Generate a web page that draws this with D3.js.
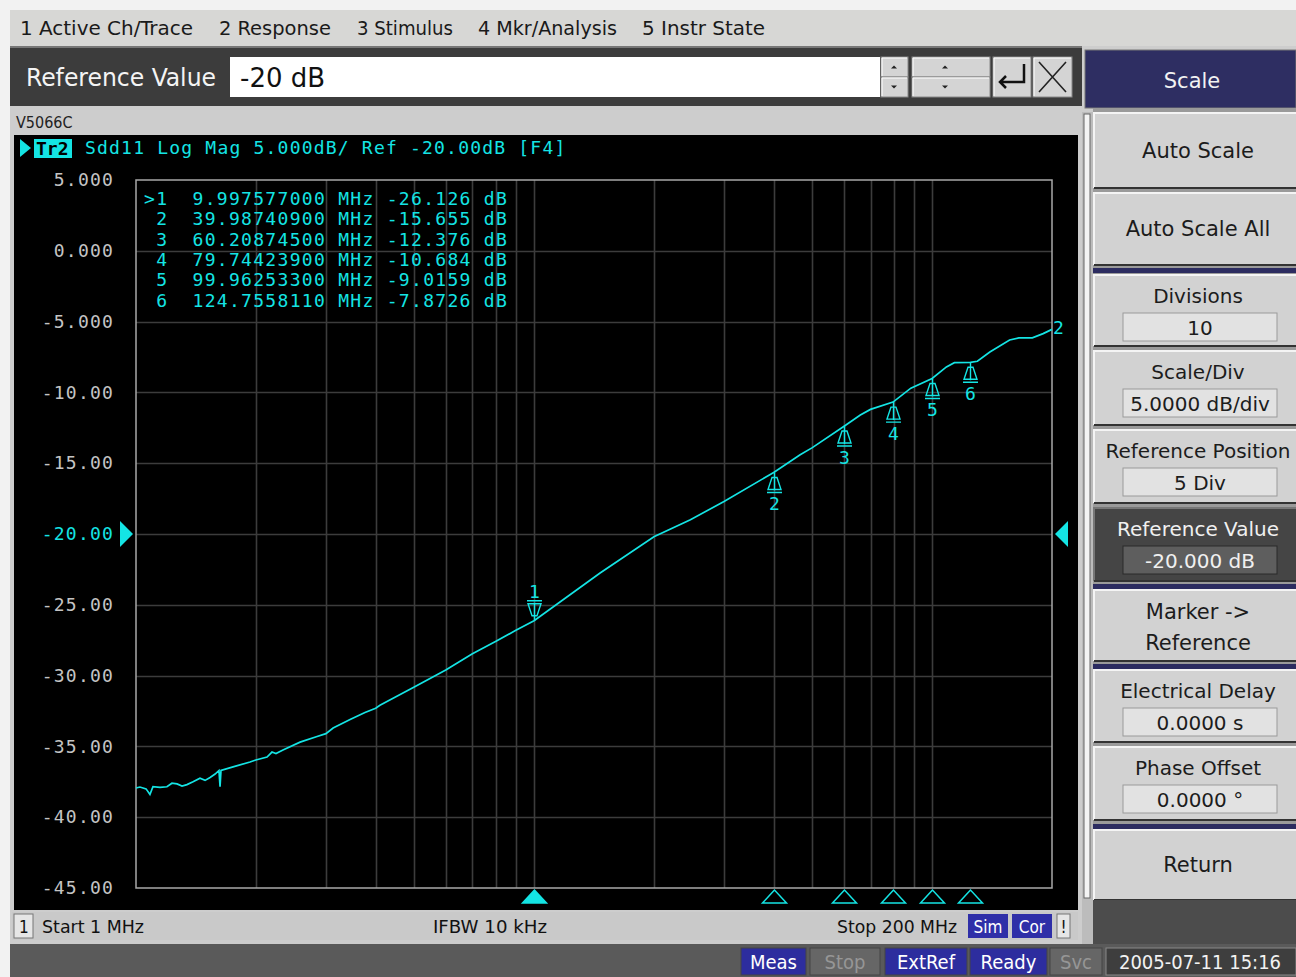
<!DOCTYPE html>
<html>
<head>
<meta charset="utf-8">
<script src="https://cdn.jsdelivr.net/npm/d3@7"></script>
<style>
body { margin: 0; background: #fff; }
svg { display: block; }
text { font-family: "DejaVu Sans Condensed", "DejaVu Sans", sans-serif; }
.mono { font-family: "DejaVu Sans Mono", monospace; white-space: pre; }
.ui { font-family: "DejaVu Sans", sans-serif; }
</style>
</head>
<body>
<div id="chart"></div>
<script>
// trace: Sdd11 log mag (MHz, dB)
const traceFreq = [1.000, 1.023, 1.06, 1.084, 1.103, 1.149, 1.196, 1.231, 1.268, 1.305, 1.343, 1.391,
  1.448, 1.491, 1.535, 1.580, 1.616, 1.626, 1.635, 1.753, 1.934, 2.000, 2.134, 2.196, 2.247, 2.340,
  2.583, 2.850, 3.000, 3.127, 3.450, 3.760, 4.000, 4.100, 5.0, 6.0, 7.0, 8.0, 9.0, 9.9976, 14.65,
  20.0, 24.7, 30.0, 39.987, 46.6, 50.0, 60.209, 66.0, 70.0, 79.744, 88.4, 99.963, 108.6, 113.7,
  124.756, 129.9, 139.6, 156.5, 165.0, 178.5, 190.0, 200.0];
const traceDb = [-37.94, -37.87, -38.0, -38.4, -37.85, -37.9, -37.85, -37.6, -37.65, -37.8, -37.7, -37.5,
  -37.25, -37.4, -37.2, -36.95, -36.7, -37.85, -36.7, -36.45, -36.1, -35.96, -35.75, -35.4, -35.5, -35.25,
  -34.7, -34.3, -34.1, -33.7, -33.1, -32.6, -32.3, -32.1, -30.8, -29.6, -28.45, -27.6, -26.8, -26.126, -22.75,
  -20.2, -19.0, -17.7, -15.655, -14.4, -13.9, -12.376, -11.6, -11.2, -10.684, -9.7, -9.016, -8.2, -7.9,
  -7.873, -7.8, -7.15, -6.3, -6.15, -6.15, -5.85, -5.55];

const markerNo = [1, 2, 3, 4, 5, 6];
const markerFreq = [9.997577, 39.987409, 60.208745, 79.744239, 99.962533, 124.755811];
const markerDb = [-26.126, -15.655, -12.376, -10.684, -9.0159, -7.8726];
const markerRows = [
  ">1  9.997577000 MHz -26.126 dB",
  " 2  39.98740900 MHz -15.655 dB",
  " 3  60.20874500 MHz -12.376 dB",
  " 4  79.74423900 MHz -10.684 dB",
  " 5  99.96253300 MHz -9.0159 dB",
  " 6  124.7558110 MHz -7.8726 dB"
];

const yTicks = [5, 0, -5, -10, -15, -20, -25, -30, -35, -40, -45];
const yTickLabels = ["5.000", "0.000", "-5.000", "-10.00", "-15.00", "-20.00", "-25.00", "-30.00", "-35.00", "-40.00", "-45.00"];
const refValue = -20;

const menuItems = ["1 Active Ch/Trace", "2 Response", "3 Stimulus", "4 Mkr/Analysis", "5 Instr State"];
const menuX = [20, 219, 357, 478, 642];
const menuW = [173, 112, 96, 139, 123];

const softkeys = [
  { label: ["Auto Scale"], value: null, y0: 113, y1: 188 },
  { label: ["Auto Scale All"], value: null, y0: 193, y1: 265 },
  { label: ["Divisions"], value: "10", y0: 275, y1: 346 },
  { label: ["Scale/Div"], value: "5.0000 dB/div", y0: 351, y1: 425 },
  { label: ["Reference Position"], value: "5 Div", y0: 430, y1: 503 },
  { label: ["Reference Value"], value: "-20.000 dB", y0: 508, y1: 581, active: true },
  { label: ["Marker ->", "Reference"], value: null, y0: 590, y1: 661 },
  { label: ["Electrical Delay"], value: "0.0000 s", y0: 670, y1: 742 },
  { label: ["Phase Offset"], value: "0.0000 °", y0: 747, y1: 820 },
  { label: ["Return"], value: null, y0: 830, y1: 900 }
];
const separators = [268, 584, 664, 824];

const statusButtons = [
  { t: "Meas", x: 741, w: 65, on: true },
  { t: "Stop", x: 810, w: 70, on: false },
  { t: "ExtRef", x: 885, w: 82, on: true },
  { t: "Ready", x: 970, w: 77, on: true },
  { t: "Svc", x: 1050, w: 52, on: false }
];

const W = 1296, H = 977;
const CYAN = "#14e4e4";
const svg = d3.select("#chart").append("svg").attr("width", W).attr("height", H);

// window chrome
svg.append("rect").attr("width", W).attr("height", H).attr("fill", "#f2f2f2");
svg.append("rect").attr("x", 10).attr("y", 10).attr("width", W - 10).attr("height", 36).attr("fill", "#d7d7d5");
svg.selectAll(".menu").data(menuItems).enter().append("text")
  .attr("x", (d, i) => menuX[i]).attr("y", 35)
  .attr("font-size", 19).attr("textLength", (d, i) => menuW[i]).attr("lengthAdjust", "spacingAndGlyphs")
  .attr("fill", "#1a1a1a").text(d => d);

// entry bar
svg.append("rect").attr("x", 10).attr("y", 46).attr("width", 1072).attr("height", 60).attr("fill", "#3c3c3c");
svg.append("rect").attr("x", 10).attr("y", 46).attr("width", 1072).attr("height", 2).attr("fill", "#777");
svg.append("text").attr("x", 26).attr("y", 86).attr("font-size", 24).attr("textLength", 190)
  .attr("lengthAdjust", "spacingAndGlyphs").attr("fill", "#f4f4f4").text("Reference Value");
svg.append("rect").attr("x", 230).attr("y", 57).attr("width", 650).attr("height", 40).attr("fill", "#fff");
svg.append("text").attr("x", 240).attr("y", 87).attr("font-size", 27).attr("textLength", 85)
  .attr("lengthAdjust", "spacingAndGlyphs").attr("fill", "#111").text("-20 dB");
const btn = (x, y, w, h) => {
  svg.append("rect").attr("x", x).attr("y", y).attr("width", w).attr("height", h).attr("fill", "#d4d4d4")
    .attr("stroke", "#888").attr("stroke-width", 1);
  svg.append("path").attr("d", `M${x + 1},${y + h - 1}V${y + 1}H${x + w - 1}`).attr("stroke", "#fff").attr("fill", "none");
};
btn(881, 57, 27, 20); btn(881, 77, 27, 20);
btn(912, 57, 78, 20); btn(912, 77, 78, 20);
btn(993, 57, 38, 40); btn(1033, 57, 39, 40);
[[894, 67, -1], [894, 87, 1], [945, 67, -1], [945, 87, 1]].forEach(([cx, cy, s]) => {
  svg.append("path").attr("d", `M${cx - 3},${cy - 1.5 * s}L${cx + 3},${cy - 1.5 * s}L${cx},${cy + 1.5 * s}Z`).attr("fill", "#222");
});
svg.append("path").attr("d", "M1024,64V82H1000M1006,76L1000,82L1006,88").attr("stroke", "#111").attr("stroke-width", 2.5).attr("fill", "none");
svg.append("path").attr("d", "M1039,62L1066,92M1066,62L1039,92").attr("stroke", "#222").attr("stroke-width", 1.6);

// chart window frame
svg.append("rect").attr("x", 10).attr("y", 106).attr("width", 1072).attr("height", 838).attr("fill", "#cdcdcd");
svg.append("text").attr("x", 16).attr("y", 128).attr("font-size", 16).attr("fill", "#222").text("V5066C");
svg.append("rect").attr("x", 14).attr("y", 135).attr("width", 1064).attr("height", 775).attr("fill", "#000");

// scales
const x = d3.scaleLog().domain([1, 200]).range([136, 1052]);
const y = d3.scaleLinear().domain([-45, 5]).range([888, 180]);

const plot = svg.append("g");
plot.selectAll(".vg").data(x.ticks().filter(d => d > 1 && d < 200)).enter().append("line")
  .attr("x1", d => Math.round(x(d)) + 0.5).attr("x2", d => Math.round(x(d)) + 0.5)
  .attr("y1", y(5)).attr("y2", y(-45)).attr("stroke", "#3c3c3c").attr("stroke-width", 1.6);
plot.selectAll(".hg").data(yTicks.filter(d => d !== 5 && d !== -45)).enter().append("line")
  .attr("x1", x(1)).attr("x2", x(200))
  .attr("y1", d => Math.round(y(d)) + 0.5).attr("y2", d => Math.round(y(d)) + 0.5)
  .attr("stroke", "#3c3c3c").attr("stroke-width", 1.6);
plot.append("rect").attr("x", x(1)).attr("y", y(5)).attr("width", x(200) - x(1)).attr("height", y(-45) - y(5))
  .attr("fill", "none").attr("stroke", "#a8a8a8").attr("stroke-width", 1.5);

// y axis labels
const yAxis = svg.append("g").attr("transform", "translate(136,0)")
  .call(d3.axisLeft(y).tickValues(yTicks).tickFormat((d, i) => yTickLabels[i]).tickSize(0).tickPadding(22));
yAxis.select(".domain").remove();
yAxis.selectAll("text").attr("class", "mono").attr("font-size", 18).attr("letter-spacing", 1.2)
  .attr("fill", d => d === refValue ? CYAN : "#c4c4c4");

// reference position triangles
svg.append("path").attr("d", `M120,${y(refValue) - 13}L133,${y(refValue)}L120,${y(refValue) + 13}Z`).attr("fill", CYAN);
svg.append("path").attr("d", `M1068,${y(refValue) - 13}L1055,${y(refValue)}L1068,${y(refValue) + 13}Z`).attr("fill", CYAN);

// header
svg.append("path").attr("d", "M20,139L31,148L20,157Z").attr("fill", CYAN);
svg.append("rect").attr("x", 34).attr("y", 139).attr("width", 38).attr("height", 19).attr("fill", CYAN);
svg.append("text").attr("class", "mono").attr("x", 36).attr("y", 155).attr("font-size", 18).attr("font-weight", "bold")
  .attr("fill", "#000").text("Tr2");
svg.append("text").attr("class", "mono").attr("x", 85).attr("y", 154).attr("font-size", 18).attr("letter-spacing", 1.2)
  .attr("fill", CYAN).text("Sdd11 Log Mag 5.000dB/ Ref -20.00dB [F4]");

// marker table
svg.selectAll(".mrow").data(markerRows).enter().append("text")
  .attr("class", "mono").attr("x", 144).attr("y", (d, i) => 205 + i * 20.3)
  .attr("font-size", 18).attr("letter-spacing", 1.3).attr("fill", CYAN).text(d => d);

// trace
const traceData = traceFreq.map((f, i) => ({ f: f, db: traceDb[i] }));
plot.append("path").datum(traceData)
  .attr("d", d3.line().x(d => x(d.f)).y(d => y(d.db)))
  .attr("fill", "none").attr("stroke", CYAN).attr("stroke-width", 1.7);
svg.append("text").attr("class", "mono").attr("x", 1053).attr("y", 334).attr("font-size", 18).attr("fill", CYAN).text("2");

// markers on trace
const mk = svg.append("g").attr("stroke", CYAN).attr("fill", "none").attr("stroke-width", 1.4);
markerNo.forEach((n, i) => {
  const px = Math.round(x(markerFreq[i])) + 0.5, py = y(markerDb[i]);
  const s = n === 1 ? -1 : 1;
  mk.append("path").attr("d",
    `M${px},${py}V${py + 18 * s}` +
    `M${px - 2.5},${py + 5 * s}L${px - 6.5},${py + 17 * s}L${px + 6.5},${py + 17 * s}L${px + 2.5},${py + 5 * s}Z` +
    `M${px - 7.5},${py + 20 * s}H${px + 7.5}`);
  svg.append("text").attr("class", "mono").attr("x", px).attr("y", n === 1 ? py - 23 : py + 38)
    .attr("text-anchor", "middle").attr("font-size", 18).attr("fill", CYAN).text(n);
  // bottom stimulus triangles
  svg.append("path").attr("d", `M${px},${890}L${px - 12},${903}L${px + 12},${903}Z`)
    .attr("fill", n === 1 ? CYAN : "none").attr("stroke", CYAN).attr("stroke-width", 1.5);
});

// channel status bar
svg.append("rect").attr("x", 12).attr("y", 912).attr("width", 1066).attr("height", 28).attr("fill", "#c9c9c9");
svg.append("rect").attr("x", 14).attr("y", 914).attr("width", 19).attr("height", 24).attr("fill", "#e6e6e6").attr("stroke", "#777");
svg.append("text").attr("x", 19).attr("y", 933).attr("font-size", 17).attr("fill", "#111").text("1");
svg.append("text").attr("x", 42).attr("y", 933).attr("font-size", 17).attr("textLength", 102)
  .attr("lengthAdjust", "spacingAndGlyphs").attr("fill", "#111").text("Start 1 MHz");
svg.append("text").attr("x", 433).attr("y", 933).attr("font-size", 17).attr("textLength", 114)
  .attr("lengthAdjust", "spacingAndGlyphs").attr("fill", "#111").text("IFBW 10 kHz");
svg.append("text").attr("x", 837).attr("y", 933).attr("font-size", 17).attr("textLength", 120)
  .attr("lengthAdjust", "spacingAndGlyphs").attr("fill", "#111").text("Stop 200 MHz");
[["Sim", 968, 40], ["Cor", 1012, 40]].forEach(([t, bx, bw]) => {
  svg.append("rect").attr("x", bx).attr("y", 914).attr("width", bw).attr("height", 24).attr("fill", "#2f2fa8");
  svg.append("text").attr("x", bx + bw / 2).attr("y", 933).attr("text-anchor", "middle").attr("font-size", 17).attr("fill", "#fff").text(t);
});
svg.append("rect").attr("x", 1057).attr("y", 914).attr("width", 13).attr("height", 24).attr("fill", "#e6e6e6").attr("stroke", "#777");
svg.append("text").attr("x", 1063.5).attr("y", 933).attr("text-anchor", "middle").attr("font-size", 17).attr("fill", "#111").text("!");

// scroll strip between chart and softkeys
svg.append("rect").attr("x", 1082).attr("y", 106).attr("width", 11).attr("height", 838).attr("fill", "#bcbcbc");
svg.append("rect").attr("x", 1084).attr("y", 114).attr("width", 6).attr("height", 784).attr("fill", "#f4f4f4").attr("stroke", "#666");

// softkey panel
svg.append("rect").attr("x", 1082).attr("y", 46).attr("width", 214).attr("height", 66).attr("fill", "#cdcdcd");
svg.append("rect").attr("x", 1085).attr("y", 50).attr("width", 211).attr("height", 58).attr("fill", "#2e2e62").attr("stroke", "#777");
svg.append("text").attr("class", "ui").attr("x", 1192).attr("y", 88).attr("text-anchor", "middle").attr("font-size", 21).attr("fill", "#f2f2f2").text("Scale");
svg.append("rect").attr("x", 1093).attr("y", 108).attr("width", 203).attr("height", 832).attr("fill", "#9a9a9a");
separators.forEach(sy => {
  svg.append("rect").attr("x", 1093).attr("y", sy).attr("width", 203).attr("height", 5).attr("fill", "#2c2c60");
});
softkeys.forEach(k => {
  const g = svg.append("g");
  g.append("rect").attr("x", 1094).attr("y", k.y0).attr("width", 202).attr("height", k.y1 - k.y0)
    .attr("fill", k.active ? "#454545" : "#d2d2d2");
  g.append("path").attr("d", `M1094,${k.y1}V${k.y0}H1296`).attr("stroke", k.active ? "#777" : "#f4f4f4").attr("stroke-width", 2).attr("fill", "none");
  g.append("path").attr("d", `M1094,${k.y1}H1296`).attr("stroke", "#333").attr("stroke-width", 2);
  const fc = k.active ? "#f0f0f0" : "#1c1c1c";
  if (k.value !== null) {
    g.append("text").attr("class", "ui").attr("x", 1198).attr("y", k.y0 + 28).attr("text-anchor", "middle")
      .attr("font-size", 20).attr("fill", fc).text(k.label[0]);
    g.append("rect").attr("x", 1123).attr("y", k.y0 + 38).attr("width", 154).attr("height", 28)
      .attr("fill", k.active ? "#5e5e5e" : "#e2e2e2").attr("stroke", k.active ? "#2a2a2a" : "#9a9a9a");
    g.append("text").attr("class", "ui").attr("x", 1200).attr("y", k.y0 + 60).attr("text-anchor", "middle")
      .attr("font-size", 20).attr("fill", fc).text(k.value);
  } else if (k.label.length === 2) {
    g.append("text").attr("class", "ui").attr("x", 1198).attr("y", k.y0 + 29).attr("text-anchor", "middle").attr("font-size", 21).attr("fill", fc).text(k.label[0]);
    g.append("text").attr("class", "ui").attr("x", 1198).attr("y", k.y0 + 60).attr("text-anchor", "middle").attr("font-size", 21).attr("fill", fc).text(k.label[1]);
  } else {
    g.append("text").attr("class", "ui").attr("x", 1198).attr("y", (k.y0 + k.y1) / 2 + 7).attr("text-anchor", "middle")
      .attr("font-size", 21).attr("fill", fc).text(k.label[0]);
  }
});
svg.append("rect").attr("x", 1093).attr("y", 900).attr("width", 203).attr("height", 44).attr("fill", "#4c4c4c");

// bottom status bar
svg.append("rect").attr("x", 10).attr("y", 944).attr("width", W - 10).attr("height", 33).attr("fill", "#5a5a5a");
statusButtons.forEach(b => {
  svg.append("rect").attr("x", b.x).attr("y", 948).attr("width", b.w).attr("height", 27)
    .attr("fill", b.on ? "#2d2d9e" : "#666").attr("stroke", "#444");
  svg.append("text").attr("x", b.x + b.w / 2).attr("y", 969).attr("text-anchor", "middle").attr("font-size", 20)
    .attr("fill", b.on ? "#fff" : "#969696").text(b.t);
});
svg.append("rect").attr("x", 1106).attr("y", 948).attr("width", 190).attr("height", 27).attr("fill", "#3e3e3e").attr("stroke", "#888");
svg.append("text").attr("x", 1200).attr("y", 969).attr("text-anchor", "middle").attr("font-size", 20).attr("fill", "#f2f2f2").text("2005-07-11 15:16");
</script>
</body>
</html>
